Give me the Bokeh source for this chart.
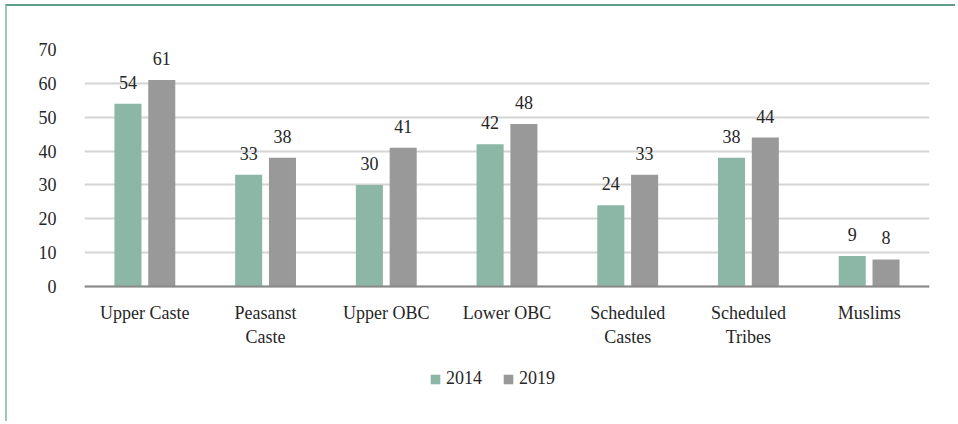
from bokeh.plotting import figure
from bokeh.models import ColumnDataSource, FactorRange, Range1d, FixedTicker, Legend, LegendItem
from bokeh.transform import dodge
from bokeh.core.properties import value
from bokeh.embed import file_html
from bokeh.resources import INLINE

categories = ["Upper Caste", "Peasanst\nCaste", "Upper OBC", "Lower OBC",
              "Scheduled\nCastes", "Scheduled\nTribes", "Muslims"]
series_names = ["2014", "2019"]
values_2014 = [54, 33, 30, 42, 24, 38, 9]
values_2019 = [61, 38, 41, 48, 33, 44, 8]
y_ticks = [0, 10, 20, 30, 40, 50, 60, 70]

FONT = "Liberation Serif"
TXT = "#262626"
C2014 = "#8cb6a6"
C2019 = "#999999"

src = ColumnDataSource(dict(
    cat=categories,
    v14=values_2014,
    v19=values_2019,
    l14=[str(v) for v in values_2014],
    l19=[str(v) for v in values_2019],
))

p = figure(width=950, height=417, output_backend="svg", toolbar_location=None,
           x_range=FactorRange(*categories, range_padding=0),
           y_range=Range1d(-40.46, 70),
           min_border_left=77, min_border_right=28, min_border_top=43, min_border_bottom=0,
           background_fill_color="white", border_fill_color="white")
p.outline_line_color = None
p.styles = {"margin-left": "5px", "margin-top": "4px",
            "border-top": "2px solid #5e9f88", "border-left": "2px solid #9cc8b8"}

r1 = p.vbar(x=dodge("cat", -0.14, range=p.x_range), top="v14", bottom=0, width=0.224, source=src,
            fill_color=C2014, line_color=None)
r2 = p.vbar(x=dodge("cat", 0.14, range=p.x_range), top="v19", bottom=0, width=0.224, source=src,
            fill_color=C2019, line_color=None)

for col, lab, off in (("v14", "l14", -0.14), ("v19", "l19", 0.14)):
    p.text(x=dodge("cat", off, range=p.x_range), y=col, text=lab, source=src,
           text_font=value(FONT), text_font_size="18px", text_color=TXT,
           text_align="center", text_baseline="bottom", y_offset=-15)

p.xgrid.grid_line_color = None
p.ygrid.grid_line_color = "#d4d4d4"
p.ygrid.grid_line_width = 2
p.ygrid.ticker = FixedTicker(ticks=y_ticks)

p.yaxis.ticker = FixedTicker(ticks=y_ticks)
p.yaxis.axis_line_color = None
p.yaxis.major_tick_line_color = None
p.yaxis.minor_tick_line_color = None
p.yaxis.major_label_standoff = 22
p.yaxis.major_label_text_font = FONT
p.yaxis.major_label_text_font_size = "18px"
p.yaxis.major_label_text_color = TXT

p.xaxis.fixed_location = 0
p.xaxis.axis_line_color = "#8a8a8a"
p.xaxis.axis_line_width = 2
p.xaxis.major_tick_line_color = None
p.xaxis.minor_tick_line_color = None
p.xaxis.major_label_standoff = 10
p.xaxis.major_label_text_font = FONT
p.xaxis.major_label_text_font_size = "18px"
p.xaxis.major_label_text_color = TXT
p.xaxis.major_label_text_line_height = 1.2

legend = Legend(items=[LegendItem(label=series_names[0], renderers=[r1]),
                       LegendItem(label=series_names[1], renderers=[r2])],
                orientation="horizontal", location=(345, 34),
                glyph_width=12, glyph_height=12, label_height=12, label_standoff=5,
                spacing=20, padding=0, margin=0,
                border_line_color=None, background_fill_alpha=0,
                label_text_font=FONT, label_text_font_size="18px", label_text_color=TXT)
p.add_layout(legend, "center")

open("out.html", "w").write(file_html(p, INLINE))
